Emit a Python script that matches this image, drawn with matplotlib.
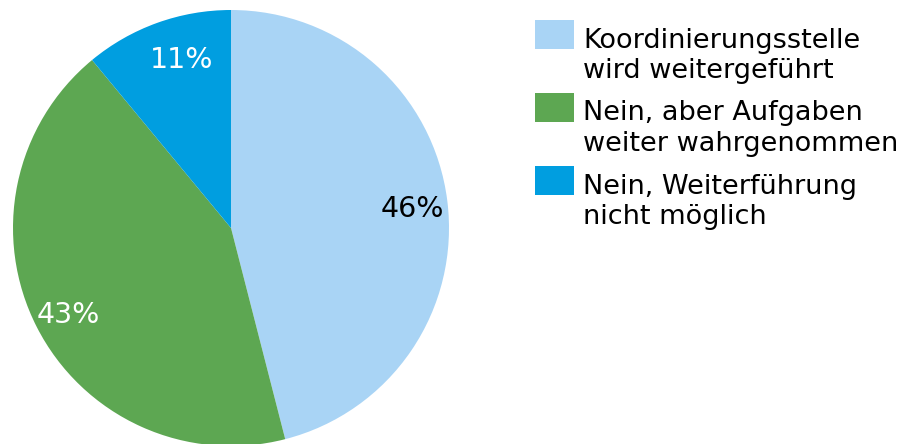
import matplotlib.pyplot as plt
from matplotlib.patches import Rectangle

# Data
labels = ['Koordinierungsstelle\nwird weitergeführt',
          'Nein, aber Aufgaben\nweiter wahrgenommen',
          'Nein, Weiterführung\nnicht möglich']
values = [46, 43, 11]
colors = ['#A9D4F5', '#5DA752', '#009EE0']
pct_colors = ['black', 'white', 'white']
# small label nudges (axis units) to match the original placement
pct_dx = [0.0, 0.0, 0.06]

W, H = 909, 444
fig = plt.figure(figsize=(W / 100, H / 100), dpi=100)

# pie axes: center (231, 228) px from top, radius 218 px
cx, cy, r = 231, 228, 218
ax = fig.add_axes([(cx - r) / W, (H - cy - r) / H, 2 * r / W, 2 * r / H])
wedges, texts, autotexts = ax.pie(values, colors=colors, startangle=90,
                                  counterclock=False, autopct='%1.0f%%',
                                  pctdistance=0.84,
                                  wedgeprops=dict(linewidth=0),
                                  textprops=dict(fontsize=20.5))
for t, c, dx in zip(autotexts, pct_colors, pct_dx):
    t.set_color(c)
    x, y = t.get_position()
    t.set_position((x + dx, y - 0.02))
ax.set_xlim(-1, 1)
ax.set_ylim(-1, 1)
ax.set_aspect('equal')

# legend drawn by hand so the patch sits at the first text line
for i, (lab, col) in enumerate(zip(labels, colors)):
    top = 20 + i * 73
    fig.add_artist(Rectangle((535 / W, 1 - (top + 29) / H), 39 / W, 29 / H,
                             facecolor=col, edgecolor='none',
                             transform=fig.transFigure))
    for j, line in enumerate(lab.split('\n')):
        base = top + 27.5 + j * 30.7
        fig.text(583 / W, 1 - base / H, line, fontsize=19.5,
                 va='baseline', ha='left', color='black')

fig.savefig('out.png', dpi=100)
